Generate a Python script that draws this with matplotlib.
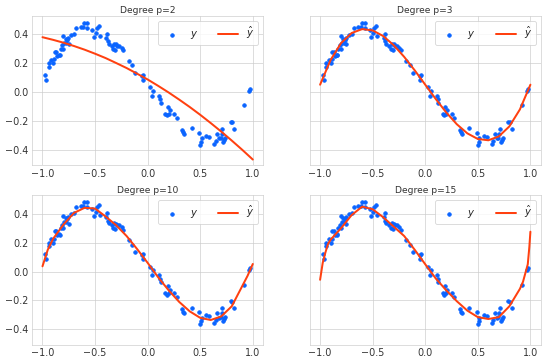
import numpy as np
import matplotlib
matplotlib.use("Agg")
import matplotlib.pyplot as plt
import seaborn as sns

# noisy samples (same in every panel)
x_pts = [-0.972, -0.962, -0.940, -0.940, -0.915, -0.900, -0.890, -0.883, -0.868, -0.858,
         -0.842, -0.836, -0.826, -0.810, -0.804, -0.804, -0.795, -0.780, -0.773, -0.763,
         -0.757, -0.750, -0.726, -0.700, -0.678, -0.637, -0.615, -0.606, -0.577, -0.577,
         -0.530, -0.514, -0.495, -0.483, -0.464, -0.457, -0.394, -0.385, -0.380, -0.372,
         -0.340, -0.330, -0.320, -0.310, -0.300, -0.290, -0.268, -0.246, -0.230, -0.180,
         -0.148, -0.117, -0.054, -0.047, -0.040, 0.022, 0.041, 0.054, 0.110, 0.120,
         0.126, 0.167, 0.180, 0.190, 0.199, 0.211, 0.252, 0.278, 0.331, 0.338,
         0.347, 0.420, 0.489, 0.498, 0.511, 0.514, 0.558, 0.584, 0.631, 0.647,
         0.662, 0.678, 0.694, 0.703, 0.710, 0.716, 0.730, 0.740, 0.789, 0.804,
         0.823, 0.921, 0.968, 0.975]
y_pts = [0.118, 0.086, 0.200, 0.177, 0.223, 0.200, 0.227, 0.277, 0.277, 0.250,
         0.260, 0.255, 0.300, 0.323, 0.300, 0.386, 0.340, 0.368, 0.340, 0.360,
         0.375, 0.330, 0.398, 0.405, 0.443, 0.450, 0.450, 0.477, 0.477, 0.443,
         0.430, 0.380, 0.410, 0.443, 0.460, 0.390, 0.375, 0.405, 0.352, 0.336,
         0.318, 0.300, 0.334, 0.295, 0.330, 0.318, 0.318, 0.307, 0.290, 0.216,
         0.186, 0.132, 0.114, 0.086, 0.118, 0.034, -0.023, 0.011, -0.023, -0.050,
         -0.075, -0.148, -0.159, -0.102, -0.148, -0.125, -0.148, -0.177, -0.261, -0.277,
         -0.290, -0.250, -0.280, -0.364, -0.341, -0.318, -0.300, -0.307, -0.357, -0.336,
         -0.290, -0.318, -0.314, -0.290, -0.255, -0.341, -0.330, -0.314, -0.205, -0.209,
         -0.255, -0.091, 0.011, 0.023]

# fitted curves
fit_x = [-1.0, -0.9, -0.8, -0.7, -0.6, -0.5, -0.4, -0.3, -0.2, -0.1, 0.0,
         0.1, 0.2, 0.3, 0.4, 0.5, 0.6, 0.7, 0.8, 0.9, 1.0]
fit_y2 = [0.380, 0.362, 0.342, 0.319, 0.294, 0.266, 0.236, 0.202, 0.167, 0.128, 0.088,
          0.044, -0.002, -0.051, -0.102, -0.156, -0.213, -0.272, -0.334, -0.398, -0.465]
fit_y3 = [0.052, 0.223, 0.340, 0.409, 0.436, 0.427, 0.388, 0.325, 0.244, 0.151, 0.052,
          -0.047, -0.140, -0.221, -0.284, -0.323, -0.332, -0.305, -0.236, -0.119, 0.052]

fit_x10 = [-1.0, -0.95, -0.9, -0.8, -0.7, -0.6, -0.5, -0.4, -0.3, -0.2, -0.1, 0.0,
           0.1, 0.2, 0.3, 0.4, 0.5, 0.6, 0.7, 0.8, 0.9, 0.95, 1.0]
fit_y10 = [0.036, 0.150, 0.225, 0.325, 0.405, 0.440, 0.435, 0.380, 0.320, 0.245, 0.155, 0.060,
           -0.040, -0.130, -0.210, -0.275, -0.320, -0.335, -0.310, -0.240, -0.100, -0.030, 0.052]

fit_x15 = [-1.0, -0.975, -0.95, -0.925, -0.9, -0.85, -0.8, -0.7, -0.6, -0.5, -0.4, -0.3,
           -0.2, -0.1, 0.0, 0.1, 0.2, 0.3, 0.4, 0.5, 0.6, 0.7, 0.8, 0.85, 0.9, 0.93,
           0.96, 0.975, 0.99, 1.0]
fit_y15 = [-0.057, 0.060, 0.130, 0.190, 0.220, 0.260, 0.300, 0.390, 0.448, 0.430, 0.375, 0.310,
           0.245, 0.150, 0.050, -0.048, -0.130, -0.205, -0.270, -0.315, -0.328, -0.315, -0.240, -0.180,
           -0.120, -0.070, 0.010, 0.050, 0.170, 0.275]

degrees = [2, 3, 10, 15]
fits = [(fit_x, fit_y2), (fit_x, fit_y3), (fit_x10, fit_y10), (fit_x15, fit_y15)]

sns.set_style("whitegrid")

fig, axes = plt.subplots(2, 2, sharey=True, figsize=(542 / 60, 362 / 60), dpi=60)
fig.subplots_adjust(left=0.059, right=0.998, top=0.956, bottom=0.048, hspace=0.2, wspace=0.2)

for ax, p, (fx, fy) in zip(axes.flat, degrees, fits):
    ax.scatter(x_pts, y_pts, s=18, color='#0a64ff', label='$y$', zorder=2)
    ax.plot(fx, fy, color='#ff4010', lw=2.4, label=r'$\hat{y}$', zorder=3)
    ax.set_title('Degree p=%i' % p, fontsize=11, pad=3, color='#333333')
    ax.set_xticks([-1.0, -0.5, 0.0, 0.5, 1.0])
    ax.tick_params(labelsize=11.5, pad=1, labelcolor='#333333')
    ax.legend(loc='upper right', ncol=2, fontsize=12)
    ax.yaxis.set_tick_params(labelleft=ax in axes[:, 0])
    ax.set_xlim(-1.1, 1.1)

axes[0, 0].set_ylim(-0.505, 0.527)

fig.savefig('out.png', dpi=60)
